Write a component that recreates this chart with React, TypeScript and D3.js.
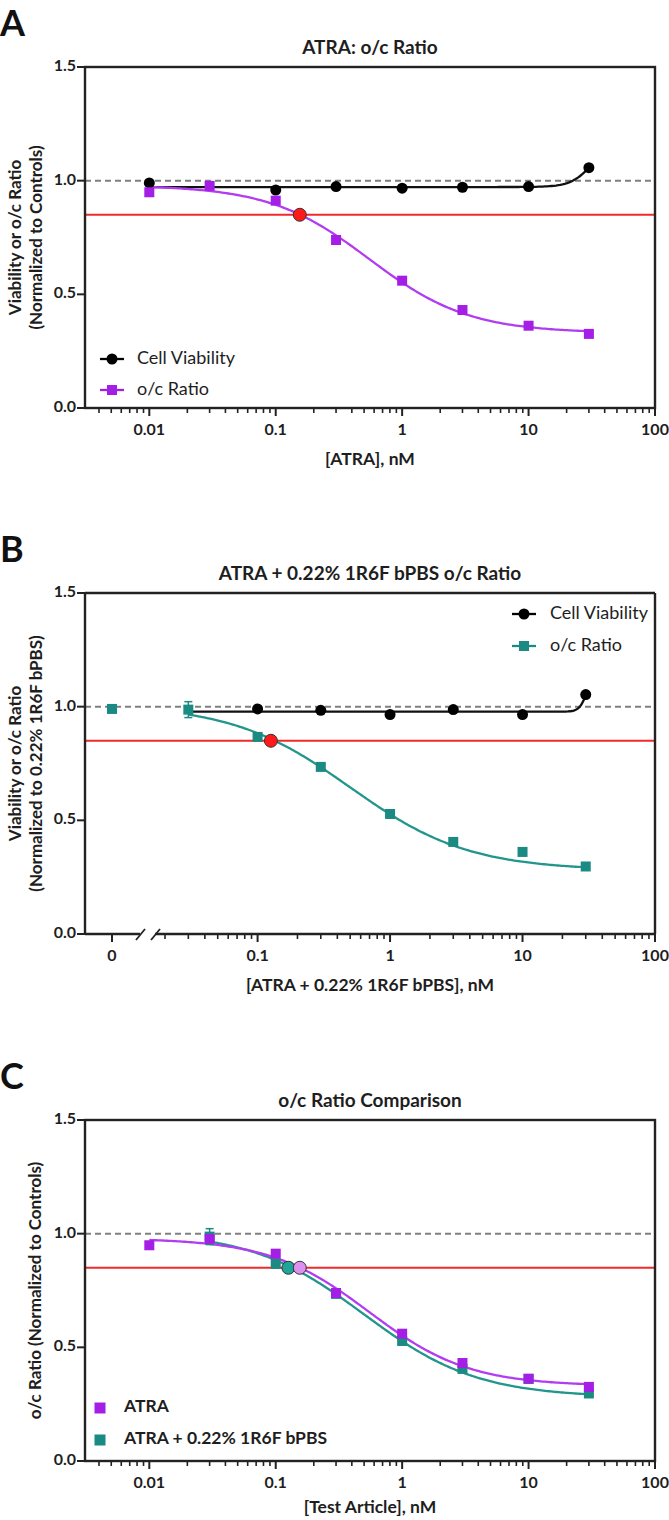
import React from 'react';
import * as d3 from 'd3';

const FONT = 'Lato, "Open Sans", sans-serif';

// doses (nM) and responses
const atraDoses = [0.01, 0.03, 0.1, 0.3, 1, 3, 10, 30];
const atraRatio = [0.949, 0.977, 0.912, 0.739, 0.56, 0.431, 0.362, 0.326];
const atraViabDoses = [0.01, 0.1, 0.3, 1, 3, 10, 30];
const atraViab = [0.99, 0.959, 0.974, 0.967, 0.971, 0.974, 1.057];

const bpbsDoses = [0, 0.03, 0.1, 0.3, 1, 3, 10, 30];
const bpbsRatio = [0.99, 0.987, 0.867, 0.735, 0.528, 0.405, 0.361, 0.297];
const bpbsRatioErr = [0, 0.035, 0.008, 0.008, 0.008, 0.008, 0.008, 0.008];
const bpbsViabDoses = [0.1, 0.3, 1, 3, 10, 30];
const bpbsViab = [0.99, 0.984, 0.965, 0.987, 0.965, 1.053];

// 4PL fit parameters: [low-dose plateau, high-dose plateau, EC50, hill]
const atraRatioFit = [0.98, 0.33, 0.55, 1.1];
const atraViabFit = [0.972, 1.2, 33.2, 5];
const bpbsRatioFit = [1.01, 0.28, 0.5, 0.97];
const bpbsViabFit = [0.978, 1.2, 31.4, 15];

const atraIC15 = 0.155;
const bpbsIC15 = 0.126;
const threshold = 0.85;
const baseline = 1.0;
const yTicks = [0, 0.5, 1.0, 1.5];

const PURPLE = '#a51ee6';
const PURPLE_LINE = '#b23cf0';
const TEAL = '#1b8a83';
const TEAL_LINE = '#22968c';
const RED = '#f02a2a';
const AXIS = '#222';
const TXT = '#1e1e1e';

const LEFT = 85;
const RIGHT = 655;
const PH = 341;

function fourPL(p: number[], x: number) {
  const [lo, hi, ec50, hill] = p;
  return hi + (lo - hi) / (1 + Math.pow(x / ec50, hill));
}

function fitPoints(p: number[], from: number, to: number) {
  const s = d3.scaleLog().domain([from, to]);
  return d3.range(0, 201).map(i => {
    const x = s.invert(i / 200);
    return [x, fourPL(p, x)];
  });
}

function Marker({ shape, x, y, color, size = 10 }: any) {
  if (shape === 'circle') return <circle cx={x} cy={y} r={size / 2 + 0.5} fill={color} />;
  return <rect x={x - size / 2} y={y - size / 2} width={size} height={size} fill={color} />;
}

function Panel(props: any) {
  const { top, label, title, yLines, xTitle, xTitleDy = 53, broken, series, ic15, legend } = props;
  const bottom = top + PH;
  const y = d3.scaleLinear().domain([0, 1.5]).range([bottom, top]);
  const xl = broken
    ? d3.scaleLog().domain([0.02, 100]).range([165, RIGHT])
    : d3.scaleLog().domain([0.0031, 100]).range([LEFT, RIGHT]);
  const zeroX = 112;
  const xp = (d: number) => (d === 0 ? zeroX : xl(d));
  const ticks = xl.ticks();
  const isMajor = (t: number) => Math.abs(Math.log10(t) - Math.round(Math.log10(t))) < 1e-6;
  const line = d3.line<number[]>().x(d => xl(d[0])).y(d => y(d[1]));

  return (
    <g fontFamily={FONT}>
      <text x={0} y={top - 31} fontSize={36} fontWeight="bold" fill="#111">{label}</text>
      <text x={(LEFT + RIGHT) / 2} y={top - 18} fontSize={19} fontWeight="bold" textAnchor="middle"
        dominantBaseline="middle" fill={TXT}>{title}</text>
      {yLines.map((t: string, i: number) => {
        const cx = yLines.length === 1 ? 37 : 17 + i * 21;
        const cy = (top + bottom) / 2;
        return (
          <text key={i} transform={`translate(${cx},${cy}) rotate(-90)`} textAnchor="middle"
            dominantBaseline="middle" fontSize={17} fontWeight="bold" fill={TXT}>{t}</text>
        );
      })}
      {/* y axis ticks */}
      {yTicks.map(t => (
        <g key={t}>
          <line x1={LEFT - 8} x2={LEFT} y1={y(t)} y2={y(t)} stroke={AXIS} strokeWidth={2} />
          <text x={LEFT - 9} y={y(t)} textAnchor="end" dominantBaseline="middle" fontSize={16}
            fontWeight="bold" fill={TXT}>{t.toFixed(1)}</text>
        </g>
      ))}
      {/* x axis ticks */}
      {ticks.map((t, i) => (
        <line key={i} x1={xl(t)} x2={xl(t)} y1={bottom} y2={bottom + (isMajor(t) ? 8 : 5)}
          stroke={AXIS} strokeWidth={isMajor(t) ? 2 : 1.6} />
      ))}
      {ticks.filter(isMajor).map((t, i) => (
        <text key={i} x={xl(t)} y={bottom + 23} textAnchor="middle" dominantBaseline="middle"
          fontSize={16} fontWeight="bold" fill={TXT}>{String(t)}</text>
      ))}
      {broken && (
        <g>
          <line x1={zeroX} x2={zeroX} y1={bottom} y2={bottom + 8} stroke={AXIS} strokeWidth={2} />
          <text x={zeroX} y={bottom + 23} textAnchor="middle" dominantBaseline="middle" fontSize={16}
            fontWeight="bold" fill={TXT}>0</text>
        </g>
      )}
      <text x={(LEFT + RIGHT) / 2} y={bottom + xTitleDy} textAnchor="middle" dominantBaseline="middle"
        fontSize={17.5} fontWeight="bold" fill={TXT}>{xTitle}</text>

      {/* reference lines */}
      <line x1={LEFT} x2={RIGHT} y1={y(baseline)} y2={y(baseline)} stroke="#808080" strokeWidth={2}
        strokeDasharray="6,4" />
      <line x1={LEFT} x2={RIGHT} y1={y(threshold)} y2={y(threshold)} stroke={RED} strokeWidth={2} />

      {/* fits */}
      {series.map((s: any, i: number) => (
        <path key={'f' + i} d={line(fitPoints(s.fit, s.from, s.to)) || ''} fill="none"
          stroke={s.lineColor} strokeWidth={2.3} />
      ))}
      {/* points */}
      {series.map((s: any, i: number) => (
        <g key={'p' + i}>
          {s.doses.map((d: number, j: number) => {
            const e = s.errs ? s.errs[j] : 0;
            return (
              <g key={j}>
                {e > 0 && (
                  <g stroke={s.color} strokeWidth={1.5}>
                    <line x1={xp(d)} x2={xp(d)} y1={y(s.values[j] - e)} y2={y(s.values[j] + e)} />
                    <line x1={xp(d) - 4} x2={xp(d) + 4} y1={y(s.values[j] - e)} y2={y(s.values[j] - e)} />
                    <line x1={xp(d) - 4} x2={xp(d) + 4} y1={y(s.values[j] + e)} y2={y(s.values[j] + e)} />
                  </g>
                )}
                <Marker shape={s.shape} x={xp(d)} y={y(s.values[j])} color={s.color} />
              </g>
            );
          })}
        </g>
      ))}
      {ic15.map((m: any, i: number) => (
        <circle key={i} cx={xl(m.x)} cy={y(threshold)} r={6.5} fill={m.color} stroke="#333" strokeWidth={1} />
      ))}

      {/* frame */}
      {broken ? (
        <g stroke={AXIS} strokeWidth={2.4} fill="none">
          <line x1={LEFT} x2={140} y1={bottom} y2={bottom} />
          <line x1={155} x2={RIGHT} y1={bottom} y2={bottom} />
          <line x1={LEFT} x2={RIGHT} y1={top} y2={top} />
          <line x1={LEFT} x2={LEFT} y1={top} y2={bottom} />
          <line x1={RIGHT} x2={RIGHT} y1={top} y2={bottom} />
          <line x1={136} x2={145} y1={bottom + 6} y2={bottom - 5} strokeWidth={1.8} />
          <line x1={151} x2={160} y1={bottom + 6} y2={bottom - 5} strokeWidth={1.8} />
        </g>
      ) : (
        <rect x={LEFT} y={top} width={RIGHT - LEFT} height={PH} fill="none" stroke={AXIS} strokeWidth={2.4} />
      )}

      {/* legend */}
      {legend.items.map((it: any, i: number) => {
        const ly = legend.y + i * legend.gap;
        return (
          <g key={i}>
            {it.line && <line x1={legend.x - 12} x2={legend.x + 12} y1={ly} y2={ly} stroke={it.color} strokeWidth={2.3} />}
            <Marker shape={it.shape} x={legend.x} y={ly} color={it.color} size={legend.bold ? 11 : 10} />
            <text x={legend.x + legend.dx} y={ly} dominantBaseline="middle" fontSize={legend.bold ? 17.5 : 18}
              fontWeight={legend.bold ? 'bold' : 'normal'} fill={TXT}>{it.text}</text>
          </g>
        );
      })}
    </g>
  );
}

export default function App() {
  return (
    <svg width={669} height={1520} style={{ position: 'absolute', left: 0, top: 0, background: '#fff' }}>
      <Panel
        top={67}
        label="A"
        title="ATRA: o/c Ratio"
        yLines={['Viability or o/c Ratio', '(Normalized to Controls)']}
        xTitle="[ATRA], nM"
        series={[
          { doses: atraViabDoses, values: atraViab, shape: 'circle', color: '#000', lineColor: '#111', fit: atraViabFit, from: 0.01, to: 30 },
          { doses: atraDoses, values: atraRatio, shape: 'square', color: PURPLE, lineColor: PURPLE_LINE, fit: atraRatioFit, from: 0.01, to: 30 },
        ]}
        ic15={[{ x: atraIC15, color: '#ff1a1a' }]}
        legend={{
          x: 112, y: 359, gap: 31, dx: 25, bold: false,
          items: [
            { text: 'Cell Viability', shape: 'circle', color: '#000', line: true },
            { text: 'o/c Ratio', shape: 'square', color: PURPLE, line: true },
          ],
        }}
      />
      <Panel
        top={593}
        label="B"
        title="ATRA + 0.22% 1R6F bPBS o/c Ratio"
        yLines={['Viability or o/c Ratio', '(Normalized to 0.22% 1R6F bPBS)']}
        xTitle="[ATRA + 0.22% 1R6F bPBS], nM"
        broken
        series={[
          { doses: bpbsViabDoses, values: bpbsViab, shape: 'circle', color: '#000', lineColor: '#111', fit: bpbsViabFit, from: 0.03, to: 30 },
          { doses: bpbsDoses, values: bpbsRatio, errs: bpbsRatioErr, shape: 'square', color: TEAL, lineColor: TEAL_LINE, fit: bpbsRatioFit, from: 0.03, to: 30 },
        ]}
        ic15={[{ x: bpbsIC15, color: '#ff1a1a' }]}
        legend={{
          x: 524, y: 614, gap: 32, dx: 26, bold: false,
          items: [
            { text: 'Cell Viability', shape: 'circle', color: '#000', line: true },
            { text: 'o/c Ratio', shape: 'square', color: TEAL, line: true },
          ],
        }}
      />
      <Panel
        top={1120}
        label="C"
        title="o/c Ratio Comparison"
        yLines={['o/c Ratio (Normalized to Controls)']}
        xTitle="[Test Article], nM"
        xTitleDy={48}
        series={[
          { doses: bpbsDoses.slice(1), values: bpbsRatio.slice(1), errs: bpbsRatioErr.slice(1), shape: 'square', color: TEAL, lineColor: TEAL_LINE, fit: bpbsRatioFit, from: 0.03, to: 30 },
          { doses: atraDoses, values: atraRatio, shape: 'square', color: PURPLE, lineColor: PURPLE_LINE, fit: atraRatioFit, from: 0.01, to: 30 },
        ]}
        ic15={[{ x: bpbsIC15, color: '#1fa69b' }, { x: atraIC15, color: '#dc90f0' }]}
        legend={{
          x: 100, y: 1408, gap: 32, dx: 24, bold: true,
          items: [
            { text: 'ATRA', shape: 'square', color: PURPLE, line: false },
            { text: 'ATRA + 0.22% 1R6F bPBS', shape: 'square', color: TEAL, line: false },
          ],
        }}
      />
    </svg>
  );
}
